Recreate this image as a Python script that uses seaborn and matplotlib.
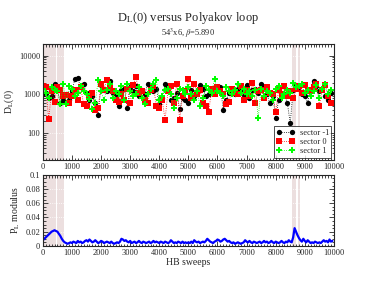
import numpy as np
import matplotlib
matplotlib.use('Agg')
import matplotlib.pyplot as plt
import seaborn as sns
from matplotlib.ticker import MultipleLocator, LogLocator, NullFormatter, FixedLocator

# measurements every 100 sweeps
sweeps = np.arange(0, 10000, 100)

sector_m1 = [1000, 1100, 800, 900, 1900, 1300, 600, 700, 1000, 700,
             1200, 2500, 2600, 1500, 1800, 1100, 700, 900, 600, 300,
             1700, 1300, 1200, 2200, 1100, 1000, 500, 1300, 1400, 450,
             1500, 1200, 1600, 900, 1300, 1000, 1800, 1500, 1200, 1400,
             550, 800, 1900, 1600, 700, 800, 1100, 420, 800, 700,
             600, 1300, 900, 1100, 1700, 1400, 900, 1000, 1200, 1100,
             1300, 1500, 400, 700, 1100, 1300, 1000, 1400, 1200, 900,
             1700, 800, 1300, 1400, 1100, 1900, 1500, 1000, 600, 900,
             250, 700, 900, 1000, 600, 180, 1300, 1700, 1500, 1000,
             900, 600, 1400, 2200, 1600, 1200, 1400, 900, 700, 1100]

sector_0 = [1600, 1500, 230, 1200, 650, 1500, 1300, 900, 950, 600,
            900, 1300, 700, 1500, 550, 500, 900, 1100, 400, 450,
            1800, 1300, 2300, 1600, 1200, 700, 650, 1000, 700, 1400,
            600, 1700, 2800, 1100, 1200, 700, 600, 1300, 1600, 500,
            450, 700, 220, 1200, 1600, 600, 1900, 220, 900, 1200,
            2500, 800, 1900, 1000, 1300, 600, 500, 350, 1400, 1000,
            1500, 1200, 1000, 550, 650, 1400, 1100, 1000, 1600, 700,
            1300, 900, 2000, 600, 1200, 1300, 800, 1500, 1100, 1000,
            350, 1300, 1000, 1600, 900, 1200, 800, 1400, 1600, 1100,
            1700, 1300, 1200, 1500, 1900, 500, 1300, 1700, 900, 600]

sector_1 = [1400, 1100, 800, 1500, 1300, 1200, 550, 1900, 550, 1600,
            1400, 900, 1100, 1600, 1200, 1000, 750, 420, 600, 2300,
            1200, 700, 1300, 1800, 800, 1200, 1000, 1600, 700, 1800,
            1200, 900, 1000, 1500, 800, 550, 1000, 1400, 1800, 2300,
            700, 900, 1300, 1400, 1000, 430, 800, 1400, 1300, 1000,
            1500, 1000, 700, 1200, 500, 800, 1600, 1300, 1100, 2500,
            1200, 1100, 900, 1500, 1200, 1000, 1300, 1900, 1100, 1400,
            1000, 1200, 900, 1300, 250, 1400, 900, 1200, 1100, 700,
            1400, 1600, 800, 1000, 1300, 1100, 2000, 1500, 1600, 1800,
            1100, 1300, 900, 1200, 1700, 800, 1400, 1900, 1000, 1300]

# Polyakov loop modulus, every 50 sweeps
pl_sweeps = np.arange(0, 10000, 50)
pl_mod = [0.008, 0.010, 0.012, 0.014, 0.016, 0.018, 0.020, 0.021, 0.022, 0.021,
          0.020, 0.017, 0.014, 0.010, 0.007, 0.005, 0.004, 0.003, 0.004, 0.005,
          0.004, 0.006, 0.005, 0.004, 0.007, 0.005, 0.006, 0.004, 0.005, 0.007,
          0.008, 0.006, 0.009, 0.007, 0.005, 0.006, 0.008, 0.006, 0.004, 0.005,
          0.007, 0.006, 0.004, 0.005, 0.006, 0.005, 0.004, 0.006, 0.004, 0.003,
          0.004, 0.005, 0.004, 0.006, 0.010, 0.009, 0.007, 0.008, 0.006, 0.005,
          0.007, 0.004, 0.005, 0.006, 0.004, 0.005, 0.007, 0.005, 0.004, 0.006,
          0.005, 0.004, 0.005, 0.006, 0.004, 0.005, 0.007, 0.005, 0.006, 0.005,
          0.004, 0.006, 0.005, 0.004, 0.006, 0.005, 0.004, 0.005, 0.008, 0.006,
          0.004, 0.005, 0.004, 0.006, 0.005, 0.004, 0.006, 0.004, 0.005, 0.004,
          0.005, 0.004, 0.006, 0.004, 0.008, 0.006, 0.005, 0.006, 0.004, 0.005,
          0.006, 0.005, 0.007, 0.010, 0.008, 0.006, 0.005, 0.004, 0.006, 0.007,
          0.009, 0.008, 0.006, 0.007, 0.009, 0.010, 0.008, 0.006, 0.007, 0.005,
          0.004, 0.005, 0.003, 0.004, 0.005, 0.004, 0.003, 0.004, 0.005, 0.008,
          0.006, 0.005, 0.007, 0.005, 0.004, 0.006, 0.005, 0.004, 0.005, 0.006,
          0.004, 0.005, 0.007, 0.005, 0.006, 0.004, 0.005, 0.007, 0.005, 0.004,
          0.006, 0.005, 0.004, 0.005, 0.007, 0.005, 0.004, 0.006, 0.005, 0.008,
          0.006, 0.005, 0.012, 0.025, 0.020, 0.015, 0.011, 0.008, 0.006, 0.010,
          0.007, 0.005, 0.008, 0.006, 0.004, 0.005, 0.004, 0.006, 0.005, 0.004,
          0.005, 0.004, 0.006, 0.008, 0.006, 0.007, 0.005, 0.009, 0.006, 0.007]

# thermalisation / excluded windows (shaded)
bands = [(0, 450), (500, 730), (8550, 8700), (8750, 8850)]

sns.set_style('ticks')
plt.rcParams['font.family'] = ['Liberation Serif', 'DejaVu Serif']
plt.rcParams['mathtext.fontset'] = 'stix'

fig = plt.figure(figsize=(3.76, 2.91), dpi=100)
ax1 = fig.add_axes([0.114, 0.450, 0.774, 0.399])
ax2 = fig.add_axes([0.114, 0.155, 0.774, 0.244])

band_color = '#ecdfdf'
for ax in (ax1, ax2):
    for a, b in bands:
        ax.axvspan(a, b, color=band_color, lw=0, zorder=0)

series = [(sector_m1, 'black', 'o', 'sector -1'),
          (sector_0, 'red', 's', 'sector 0'),
          (sector_1, '#00ff00', 'P', 'sector 1')]
for vals, col, mk, lab in series:
    sns.lineplot(x=sweeps, y=vals, ax=ax1, color=col, marker=mk, markersize=3.8,
                 markeredgewidth=0, linestyle=':', linewidth=0.6, label=lab,
                 estimator=None, sort=False)

ax1.set_yscale('log')
ax1.set_ylim(20, 20000)
ax1.set_xlim(0, 10000)
ax1.yaxis.set_major_locator(FixedLocator([100, 1000, 10000]))
ax1.set_yticklabels(['100', '1000', '10000'])
ax1.yaxis.set_minor_locator(LogLocator(base=10, subs=np.arange(2, 10)))
ax1.yaxis.set_minor_formatter(NullFormatter())
ax1.set_ylabel(r'D$_\mathrm{L}$(0)', fontsize=7, labelpad=2)

leg = ax1.legend(loc='lower right', fontsize=6, numpoints=2, frameon=True,
                 fancybox=False, edgecolor='black', handlelength=2.2,
                 borderpad=0.3, labelspacing=0.15, handletextpad=0.6,
                 borderaxespad=0.3)
leg.get_frame().set_linewidth(0.6)

sns.lineplot(x=pl_sweeps, y=pl_mod, ax=ax2, color='blue', linewidth=1.6,
             estimator=None, sort=False)
ax2.set_xlim(0, 10000)
ax2.set_ylim(0, 0.1)
ax2.yaxis.set_minor_locator(MultipleLocator(0.005))
ax2.set_yticks([0, 0.02, 0.04, 0.06, 0.08, 0.1])
ax2.set_yticklabels(['0', '0.02', '0.04', '0.06', '0.08', '0.1'])
ax2.set_ylabel(r'P$_\mathrm{L}$ modulus', fontsize=7, labelpad=2)
ax2.set_xlabel('HB sweeps', fontsize=7, labelpad=1)

for ax in (ax1, ax2):
    ax.xaxis.set_minor_locator(MultipleLocator(100))
    ax.tick_params(which='both', direction='in', top=True, right=True,
                   labelsize=6, width=0.6, pad=2)
    ax.tick_params(which='major', length=3.5)
    ax.tick_params(which='minor', length=1.8)
    # white dotted grid only shows up over the shaded bands
    ax.grid(True, which='major', color='white', linestyle=':', linewidth=0.6)
    ax.set_axisbelow('line')
    for s in ax.spines.values():
        s.set_linewidth(0.8)
    ax.set_xticks(range(0, 10001, 1000))
    ax.set_xticklabels([str(v) for v in range(0, 10001, 1000)])

fig.text(0.5, 0.938, r'D$_\mathrm{L}$(0) versus Polyakov loop', ha='center',
         va='center', fontsize=9)
fig.text(0.5, 0.887, r'54$^3$x6, $\beta$=5.890', ha='center', va='center',
         fontsize=6)

fig.savefig('out.png', dpi=100)
plt.close(fig)
